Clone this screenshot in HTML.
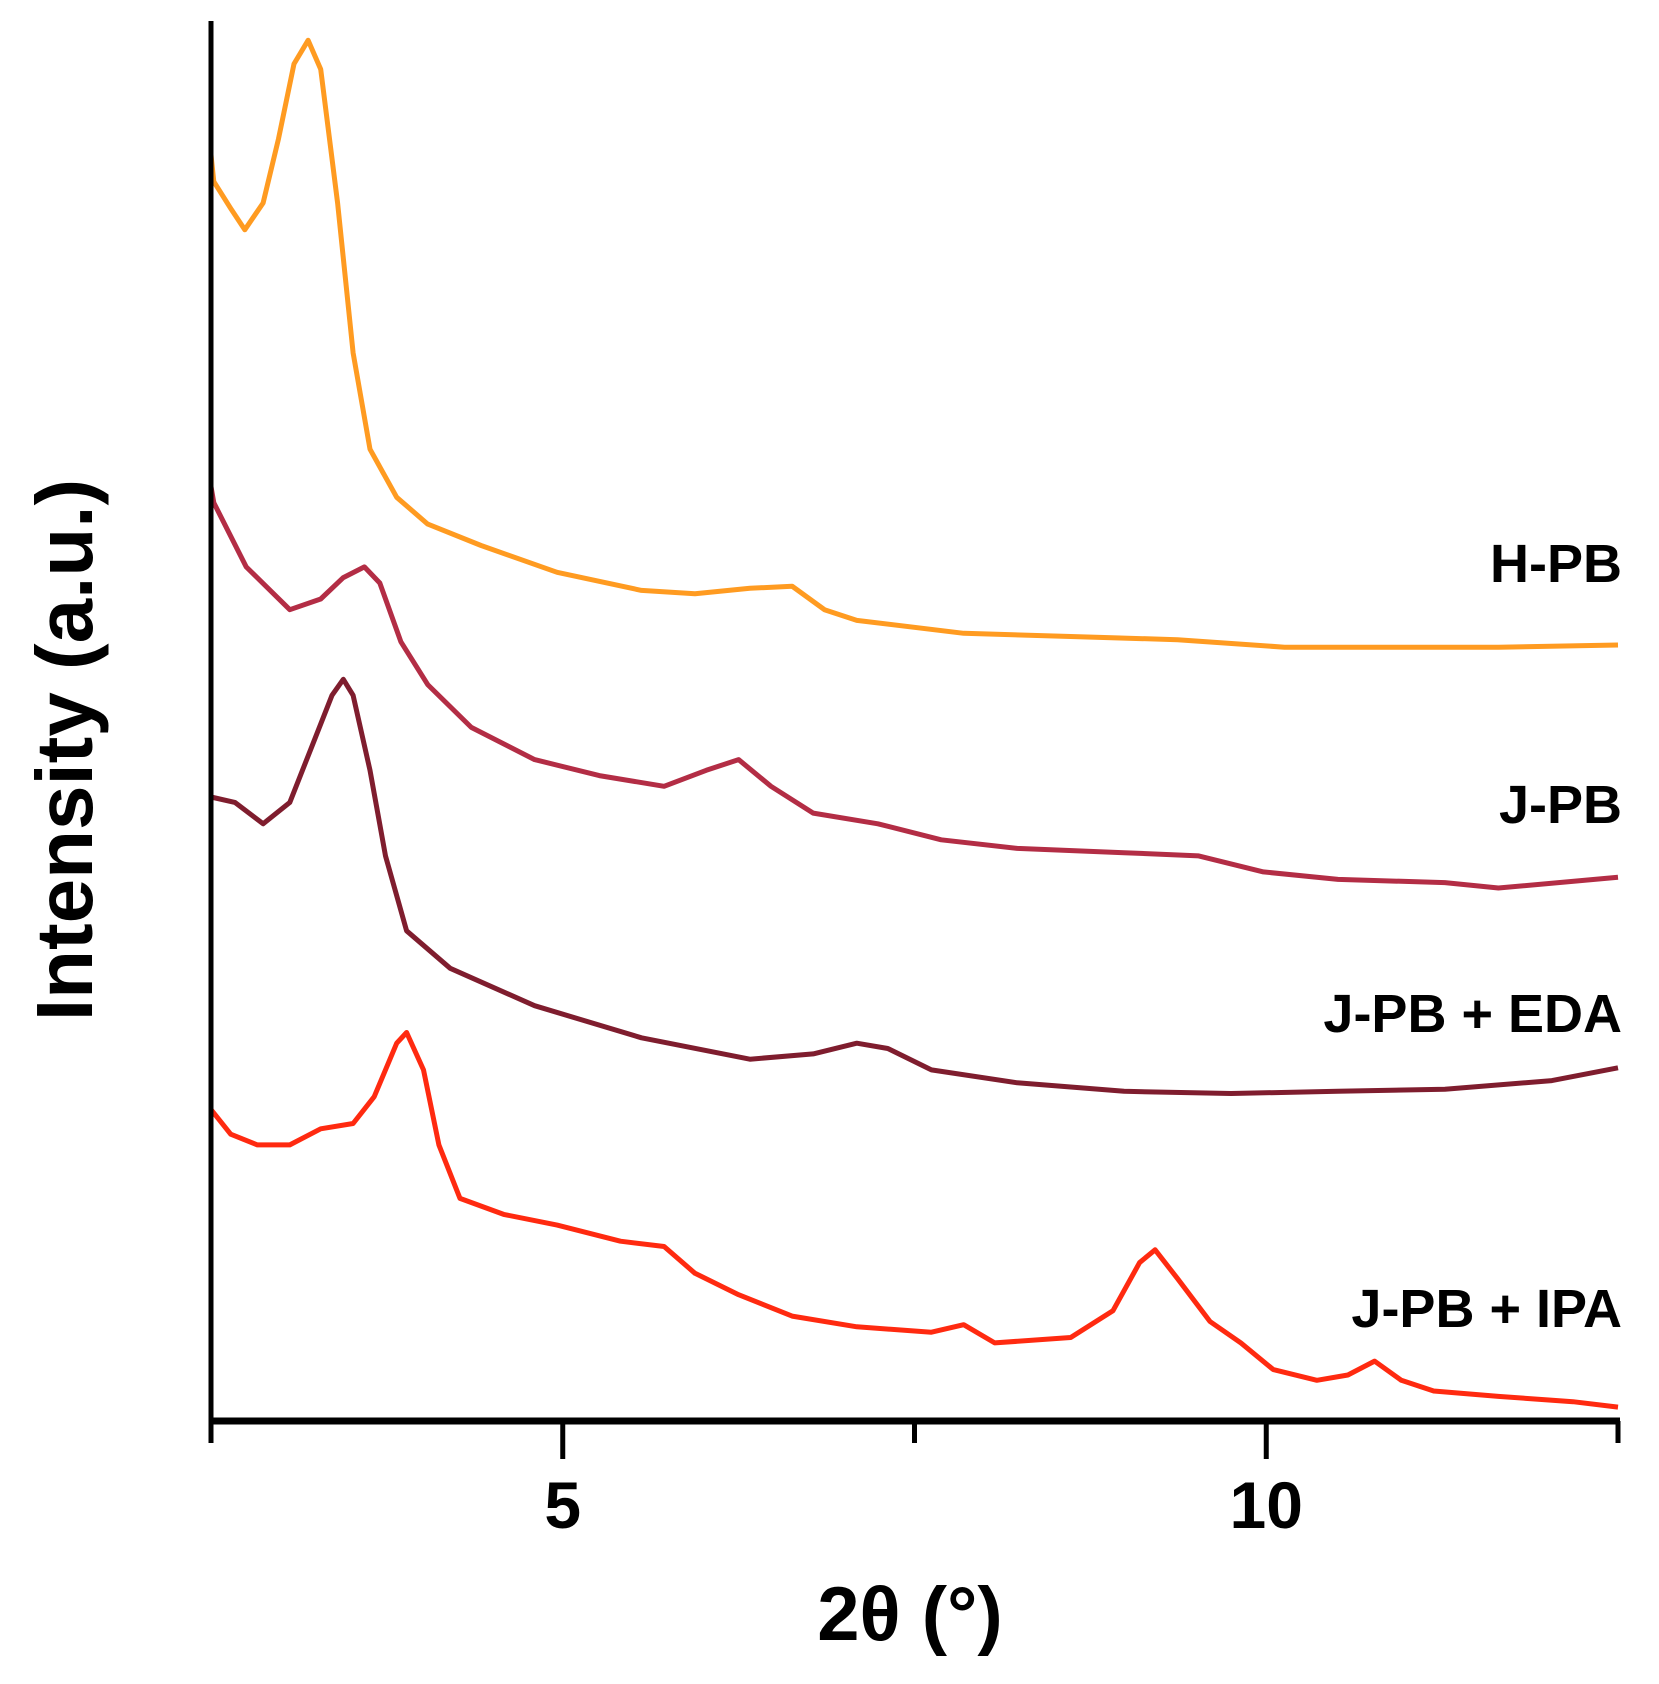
<!DOCTYPE html>
<html><head><meta charset="utf-8">
<style>
html,body{margin:0;padding:0;background:#fff;}
svg{display:block;}
text{font-family:"Liberation Sans",Arial,sans-serif;font-weight:bold;fill:#000;}
</style></head>
<body>
<svg id="chart" width="1659" height="1684" viewBox="0 0 1659 1684" xmlns="http://www.w3.org/2000/svg">
  <g id="series"></g>
  <g id="axes"></g>
</svg>
<script>
// ---- data (2θ in degrees, intensity in arbitrary units) ----
const hpbX = [2.50,2.52,2.64,2.74,2.87,2.98,3.09,3.19,3.28,3.40,3.51,3.63,3.82,4.04,4.42,4.96,5.56,5.94,6.33,6.63,6.86,7.09,7.85,8.61,9.37,10.13,10.89,11.65,12.50];
const hpbY = [1183,1158,1133,1113,1138,1198,1268,1290,1263,1138,998,908,863,838,818,793,776,773,778,780,758,748,736,733,730,723,723,723,725];
const jpbX = [2.50,2.52,2.75,3.06,3.28,3.44,3.59,3.70,3.85,4.04,4.35,4.80,5.26,5.72,6.02,6.25,6.48,6.78,7.24,7.69,8.23,8.99,9.52,9.98,10.51,11.27,11.65,12.50];
const jpbY = [873,858,798,758,768,788,798,783,728,688,648,618,603,593,608,618,593,568,558,543,535,531,528,513,506,503,498,508];
const edaX = [2.50,2.67,2.87,3.06,3.21,3.36,3.44,3.51,3.63,3.74,3.89,4.20,4.80,5.56,6.33,6.78,7.09,7.31,7.62,8.23,8.99,9.75,10.51,11.27,12.03,12.50];
const edaY = [583,578,558,578,628,678,693,678,608,528,458,423,388,358,338,343,353,348,328,316,308,306,308,310,318,330];
const ipaX = [2.50,2.64,2.83,3.06,3.28,3.51,3.66,3.82,3.89,4.01,4.12,4.27,4.58,4.96,5.41,5.72,5.94,6.25,6.63,7.09,7.62,7.85,8.07,8.61,8.91,9.10,9.21,9.37,9.60,9.82,10.05,10.36,10.58,10.77,10.96,11.19,11.65,12.18,12.50];
const ipaY = [291,268,258,258,273,278,303,353,363,328,258,208,193,183,168,163,138,118,98,88,83,90,73,78,103,148,160,133,93,73,48,38,43,56,38,28,23,18,13];
const seriesNames = ["H-PB","J-PB","J-PB + EDA","J-PB + IPA"];
const xTicks = [2.5,5,7.5,10,12.5];
const xTickLabels = ["","5","","10",""];

// ---- scales ----
const X0=211, X1=1618, YB=1421, YT=21;
const xMin=2.5, xMax=12.5;
function xs(v){return X0+(v-xMin)/(xMax-xMin)*(X1-X0);}
function ys(v){return YB-v*1.0703;}

const NS="http://www.w3.org/2000/svg";
const sg=document.getElementById('series');
const ag=document.getElementById('axes');

const defs=[
 {x:hpbX,y:hpbY,c:"#FF9B21",n:"h-pb-line",lab:seriesNames[0],ly:582,ln:"h-pb-label"},
 {x:jpbX,y:jpbY,c:"#B32D45",n:"j-pb-line",lab:seriesNames[1],ly:823,ln:"j-pb-label"},
 {x:edaX,y:edaY,c:"#7F1D2E",n:"j-pb-eda-line",lab:seriesNames[2],ly:1032,ln:"j-pb-eda-label"},
 {x:ipaX,y:ipaY,c:"#FF2A10",n:"j-pb-ipa-line",lab:seriesNames[3],ly:1327,ln:"j-pb-ipa-label"}
];
defs.forEach(d=>{
  const p=document.createElementNS(NS,'polyline');
  p.setAttribute('points',d.x.map((v,i)=>xs(v).toFixed(1)+','+ys(d.y[i]).toFixed(1)).join(' '));
  p.setAttribute('fill','none');p.setAttribute('stroke',d.c);
  p.setAttribute('stroke-width','5');p.setAttribute('stroke-linejoin','round');
  
  
  sg.appendChild(p);
  const t=document.createElementNS(NS,'text');
  t.setAttribute('x',1622);t.setAttribute('y',d.ly);
  t.setAttribute('text-anchor','end');t.setAttribute('font-size','54');
  t.textContent=d.lab;
  
  
  sg.appendChild(t);
});

// axes
function line(x1,y1,x2,y2,w,name){
  const l=document.createElementNS(NS,'line');
  l.setAttribute('x1',x1);l.setAttribute('y1',y1);l.setAttribute('x2',x2);l.setAttribute('y2',y2);
  l.setAttribute('stroke','#000');l.setAttribute('stroke-width',w);
  
  
  ag.appendChild(l);
}
line(X0,YT,X0,YB+4,5,'y-axis');
line(X0-2,YB,X1+2,YB,7,'x-axis');
xTicks.forEach((v,i)=>{
  const len = xTickLabels[i] ? 38 : 22;
  line(xs(v),YB,xs(v),YB+len,5,'x-tick');
  if(xTickLabels[i]){
    const t=document.createElementNS(NS,'text');
    t.setAttribute('x',xs(v));t.setAttribute('y',1528);
    t.setAttribute('text-anchor','middle');t.setAttribute('font-size','66');
    t.textContent=xTickLabels[i];
    
    
    ag.appendChild(t);
  }
});
const xt=document.createElementNS(NS,'text');
xt.setAttribute('x',910);xt.setAttribute('y',1640);xt.setAttribute('text-anchor','middle');xt.setAttribute('font-size','76');
xt.textContent='2θ (°)';


ag.appendChild(xt);
const yt=document.createElementNS(NS,'text');
yt.setAttribute('transform','translate(92,750) rotate(-90)');yt.setAttribute('text-anchor','middle');yt.setAttribute('font-size','80');
yt.textContent='Intensity (a.u.)';


ag.appendChild(yt);
</script>
</body></html>
